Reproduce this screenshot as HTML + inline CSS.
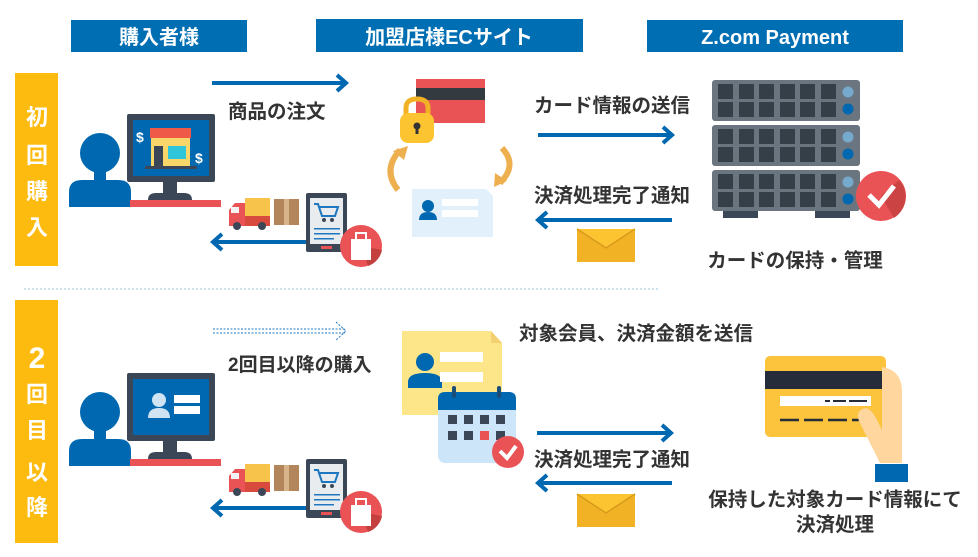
<!DOCTYPE html>
<html><head><meta charset="utf-8"><style>
html,body{margin:0;padding:0;background:#fff;}
svg{display:block;}
text{font-family:"Liberation Sans","Noto Sans CJK JP",sans-serif;font-weight:bold;}
</style></head><body>
<svg width="978" height="557" viewBox="0 0 978 557" xmlns="http://www.w3.org/2000/svg">
<defs>
<g id="person">
  <circle cx="100" cy="153" r="20" fill="#0068b0"/>
  <rect x="94" y="168" width="12" height="14" fill="#0068b0"/>
  <path d="M69 207 V192 Q69 180 82 180 H118 Q131 180 131 192 V207 Z" fill="#0068b0"/>
  <rect x="130" y="200" width="91" height="7" fill="#ea5355"/>
  <rect x="127" y="114" width="88" height="68" rx="2" fill="#3b4656"/>
  <rect x="133" y="120" width="76" height="56" fill="#0068b0"/>
  <rect x="163" y="182" width="14" height="12" fill="#3b4656"/>
  <path d="M148 200 Q148 193 156 193 H184 Q192 193 192 200 Z" fill="#3b4656"/>
</g>
<g id="ship">
  <rect x="245" y="198" width="25" height="18" fill="#f8c34a"/>
  <rect x="245" y="216" width="25" height="10" fill="#d94a3e"/>
  <path d="M229 226 V210 L235 203 H245 V226 Z" fill="#ea5355"/>
  <rect x="231" y="207" width="8" height="6" fill="#f3f3f3"/>
  <circle cx="237" cy="226" r="4" fill="#3b4656"/><circle cx="262" cy="226" r="4" fill="#3b4656"/>
  <rect x="274" y="199" width="25" height="26" fill="#b3855a"/>
  <rect x="284" y="199" width="5" height="26" fill="#d8b48a"/>
  <rect x="306" y="193" width="41" height="59" rx="2" fill="#3b4656"/>
  <rect x="310" y="198" width="33" height="46" fill="#e8ecef"/>
  <path d="M314 204 h4 l4 12 h13 l3 -9 h-19" fill="none" stroke="#1f77c0" stroke-width="2"/>
  <circle cx="324" cy="220" r="2" fill="#3b4656"/><circle cx="332" cy="220" r="2" fill="#3b4656"/>
  <rect x="314" y="228" width="26" height="1.5" fill="#1f77c0"/><rect x="314" y="233" width="26" height="1.5" fill="#1f77c0"/><rect x="314" y="238" width="20" height="1.5" fill="#1f77c0"/>
  <rect x="321" y="246" width="11" height="3" fill="#ea5355"/>
  <path d="M212 242 H306" stroke="#0068b0" stroke-width="4"/>
  <path d="M222 234 L213 242 L222 250" fill="none" stroke="#0068b0" stroke-width="4"/>
  <circle cx="361" cy="246" r="21" fill="#ea5355"/>
  <path d="M361 246 L382 250 A21 21 0 0 1 368 266 Z" fill="#c4403f"/>
  <rect x="351" y="239" width="20" height="21" fill="#fff"/>
  <path d="M356 239 V233 H366 V239" fill="none" stroke="#fff" stroke-width="2"/>
</g>
<g id="env">
  <rect x="0" y="0" width="58" height="33" fill="#f2b225"/>
  <path d="M0 0 L29 19 L58 0" fill="#fcc430" stroke="#d99a1c" stroke-width="1.5"/>
</g>
</defs>

<rect x="71" y="20" width="176" height="32" fill="#006eb3"/>
<text x="159" y="44" font-size="20" fill="#fff" text-anchor="middle">購入者様</text>
<rect x="316" y="19" width="267" height="33" fill="#006eb3"/>
<text x="449" y="44" font-size="20" fill="#fff" text-anchor="middle">加盟店様ECサイト</text>
<rect x="647" y="20" width="256" height="32" fill="#006eb3"/>
<text x="775" y="44" font-size="20" fill="#fff" text-anchor="middle">Z.com Payment</text>

<rect x="15" y="73" width="43" height="193" fill="#fdbb10"/>
<g font-size="22" fill="#fff" text-anchor="middle">
<text x="37" y="125">初</text><text x="37" y="163">回</text><text x="37" y="199">購</text><text x="37" y="235">入</text>
</g>
<rect x="15" y="300" width="43" height="243" fill="#fdbb10"/>
<g fill="#fff" text-anchor="middle">
<text x="37" y="368" font-size="30">2</text>
<text x="37" y="402" font-size="22">回</text><text x="37" y="438" font-size="22">目</text><text x="37" y="480" font-size="22">以</text><text x="37" y="515" font-size="22">降</text>
</g>
<line x1="24" y1="289" x2="660" y2="289" stroke="#9cc6df" stroke-width="1" stroke-dasharray="2,2"/>

<use href="#person"/>
<rect x="150" y="128" width="41" height="10" fill="#ef5a48"/>
<rect x="151" y="138" width="39" height="28" fill="#f8d66a"/>
<rect x="154" y="146" width="9" height="20" fill="#3b4656"/>
<rect x="168" y="146" width="18" height="13" fill="#2fc5da"/>
<rect x="145" y="166" width="52" height="3" fill="#3b4656"/>
<text x="136" y="142" font-size="14" fill="#fff">$</text>
<text x="195" y="163" font-size="14" fill="#fff">$</text>
<path d="M212 83 H345" stroke="#0068b0" stroke-width="4"/>
<path d="M337 75 L346 83 L337 91" fill="none" stroke="#0068b0" stroke-width="4"/>
<text x="228" y="118" font-size="19.5" fill="#333">商品の注文</text>
<use href="#ship"/>

<rect x="416" y="79" width="69" height="44" fill="#ea5355"/>
<rect x="416" y="88" width="69" height="12" fill="#333a40"/>
<path d="M406 115 V108 Q406 99 417 99 Q428 99 428 108 V115" fill="none" stroke="#f2b225" stroke-width="5"/>
<rect x="400" y="113" width="34" height="30" rx="8" fill="#fcc430"/>
<circle cx="417" cy="126" r="3.5" fill="#333"/><rect x="415.5" y="126" width="3" height="8" fill="#333"/>
<path d="M398 190 Q382 170 400 150" fill="none" stroke="#eeaf4f" stroke-width="6"/>
<path d="M393 151 L408 146 L404 160 Z" fill="#eeaf4f"/>
<path d="M502 148 Q518 165 500 183" fill="none" stroke="#eeaf4f" stroke-width="6"/>
<path d="M507 181 L494 187 L495 173 Z" fill="#eeaf4f"/>
<path d="M412 189 H486 L493 196 V237 H412 Z" fill="#e2f0fb"/>
<circle cx="428" cy="206" r="6" fill="#0068b0"/>
<path d="M419 220 Q419 212 428 212 Q437 212 437 220 Z" fill="#0068b0"/>
<rect x="442" y="199" width="36" height="7" fill="#fff"/>
<rect x="442" y="210" width="36" height="7" fill="#fff"/>

<text x="612" y="112" font-size="19.5" fill="#333" text-anchor="middle">カード情報の送信</text>
<path d="M538 135 H671" stroke="#0068b0" stroke-width="4"/>
<path d="M663 127 L672 135 L663 143" fill="none" stroke="#0068b0" stroke-width="4"/>
<text x="612" y="202" font-size="19.5" fill="#333" text-anchor="middle">決済処理完了通知</text>
<path d="M539 220 H672" stroke="#0068b0" stroke-width="4"/>
<path d="M547 212 L538 220 L547 228" fill="none" stroke="#0068b0" stroke-width="4"/>
<use href="#env" x="577" y="229"/>

<g>
<rect x="712" y="80" width="148" height="41" rx="3" fill="#6a7580"/>
<rect x="712" y="125" width="148" height="41" rx="3" fill="#6a7580"/>
<rect x="712" y="170" width="148" height="41" rx="3" fill="#6a7580"/>
<rect x="723" y="211" width="35" height="7" fill="#3b4656"/>
<rect x="815" y="211" width="35" height="7" fill="#3b4656"/>
<g fill="#353f47">
<g id="row"><rect x="718" y="84" width="15" height="15"/><rect x="739" y="84" width="15" height="15"/><rect x="759" y="84" width="15" height="15"/><rect x="780" y="84" width="15" height="15"/><rect x="800" y="84" width="15" height="15"/><rect x="821" y="84" width="15" height="15"/></g>
<use href="#row" y="18"/><use href="#row" y="45"/><use href="#row" y="63"/><use href="#row" y="90"/><use href="#row" y="108"/>
</g>
<g><circle cx="848" cy="92" r="5.5" fill="#76aacd"/><circle cx="848" cy="109" r="5.5" fill="#0068b0"/>
<circle cx="848" cy="137" r="5.5" fill="#76aacd"/><circle cx="848" cy="154" r="5.5" fill="#0068b0"/>
<circle cx="848" cy="182" r="5.5" fill="#76aacd"/><circle cx="848" cy="199" r="5.5" fill="#0068b0"/></g>
</g>
<circle cx="881" cy="196" r="25" fill="#ea5355"/>
<path d="M881 196 L899 180 A25 25 0 0 1 894 218 Z" fill="#c4403f" opacity="0.8"/>
<path d="M869 195 L879 205 L894 186" fill="none" stroke="#fff" stroke-width="5"/>
<text x="795" y="267" font-size="19.5" fill="#333" text-anchor="middle">カードの保持・管理</text>

<use href="#person" y="259"/>
<circle cx="159" cy="400" r="7" fill="#cfe3f3"/>
<path d="M148 418 Q148 408 159 408 Q170 408 170 418 Z" fill="#cfe3f3"/>
<rect x="174" y="395" width="26" height="8" fill="#fff"/>
<rect x="174" y="406" width="26" height="8" fill="#fff"/>
<path d="M213 329 H345 M213 333 H345" stroke="#1f77c0" stroke-width="1" stroke-dasharray="2,1.5"/>
<path d="M336 322 L346 331 L336 340" fill="none" stroke="#1f77c0" stroke-width="1" stroke-dasharray="2,1.5"/>
<text x="228" y="371" font-size="19" fill="#333">2回目以降の購入</text>
<use href="#ship" y="266"/>

<path d="M402 331 H491 L502 343 V415 H402 Z" fill="#fde58a"/>
<path d="M491 331 V343 H502 Z" fill="#f2cf70"/>
<circle cx="425" cy="362" r="9" fill="#0068b0"/>
<path d="M408 388 V382 Q408 373 425 373 Q442 373 442 382 V388 Z" fill="#0068b0"/>
<rect x="440" y="352" width="43" height="10" fill="#fff"/>
<rect x="440" y="372" width="43" height="10" fill="#fff"/>
<rect x="438" y="392" width="78" height="71" rx="7" fill="#cde5f8"/>
<path d="M438 410 V399 Q438 392 445 392 H509 Q516 392 516 399 V410 Z" fill="#0068b0"/>
<rect x="452" y="386" width="4" height="12" rx="2" fill="#1b4f7a"/><rect x="497" y="386" width="4" height="12" rx="2" fill="#1b4f7a"/>
<g fill="#3b4656"><rect x="448" y="415" width="9" height="9"/><rect x="464" y="415" width="9" height="9"/><rect x="480" y="415" width="9" height="9"/><rect x="496" y="415" width="9" height="9"/>
<rect x="448" y="431" width="9" height="9"/><rect x="464" y="431" width="9" height="9"/><rect x="496" y="431" width="9" height="9"/></g>
<rect x="480" y="431" width="9" height="9" fill="#ea5355"/>
<circle cx="508" cy="452" r="16" fill="#ea5355"/>
<path d="M500 451 L507 458 L516 446" fill="none" stroke="#fff" stroke-width="4"/>

<text x="636" y="340" font-size="19.5" fill="#333" text-anchor="middle">対象会員、決済金額を送信</text>
<path d="M537 433 H670" stroke="#0068b0" stroke-width="4"/>
<path d="M662 425 L671 433 L662 441" fill="none" stroke="#0068b0" stroke-width="4"/>
<text x="612" y="466" font-size="19.5" fill="#333" text-anchor="middle">決済処理完了通知</text>
<path d="M539 483 H672" stroke="#0068b0" stroke-width="4"/>
<path d="M547 475 L538 483 L547 491" fill="none" stroke="#0068b0" stroke-width="4"/>
<use href="#env" x="577" y="494"/>

<rect x="765" y="356" width="121" height="81" rx="5" fill="#fcc43d"/>
<rect x="765" y="371" width="121" height="18" fill="#252d3b"/>
<rect x="780" y="396" width="91" height="10" fill="#fff"/>
<path d="M825 401 H868" stroke="#252d3b" stroke-width="2" stroke-dasharray="5,3,13,3,13,0"/>
<path d="M780 420 H870" stroke="#252d3b" stroke-width="2.5" stroke-dasharray="19,5"/>
<path d="M882 367 Q902 370 902 392 V463 H880 L859 421 Q855 410 866 408 Q872 410 876 418 L882 430 Z" fill="#fed69e"/>
<rect x="875" y="464" width="33" height="18" fill="#0068b0"/>
<text x="835" y="506" font-size="19.5" fill="#333" text-anchor="middle">保持した対象カード情報にて</text>
<text x="835" y="531" font-size="19.5" fill="#333" text-anchor="middle">決済処理</text>
</svg>
</body></html>
